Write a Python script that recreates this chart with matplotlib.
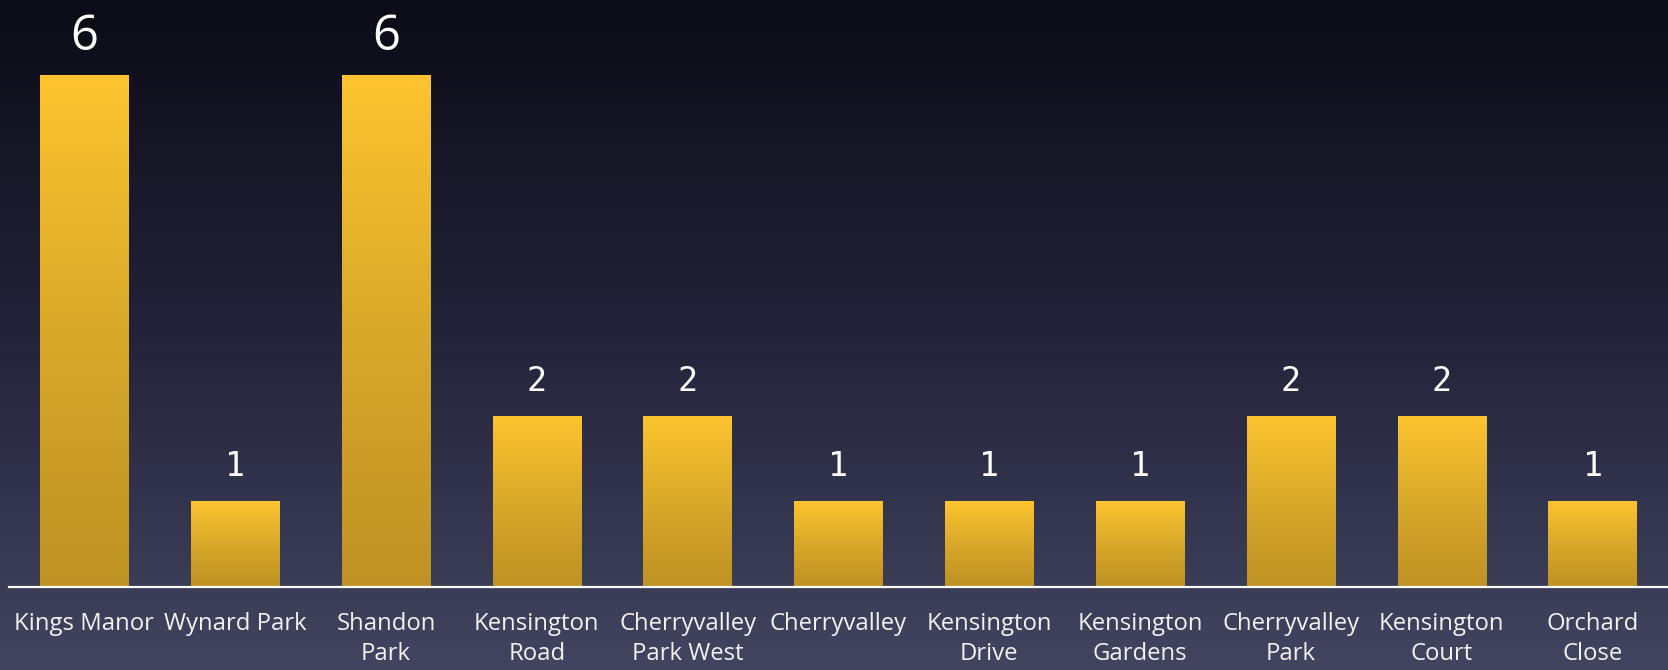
import numpy as np
import matplotlib
matplotlib.use('Agg')
import matplotlib.pyplot as plt
from matplotlib.colors import LinearSegmentedColormap

# data
estates = ['Kings Manor', 'Wynard Park', 'Shandon\nPark', 'Kensington\nRoad',
           'Cherryvalley\nPark West', 'Cherryvalley', 'Kensington\nDrive',
           'Kensington\nGardens', 'Cherryvalley\nPark', 'Kensington\nCourt',
           'Orchard\nClose']
counts = [6, 1, 6, 2, 2, 1, 1, 1, 2, 2, 1]

W, H = 1668, 670
fig = plt.figure(figsize=(W / 100, H / 100), dpi=100)

# background gradient
bg = fig.add_axes([0, 0, 1, 1], zorder=0)
bg_cmap = LinearSegmentedColormap.from_list('bg', ['#0c0c16', '#23233a', '#434560'])
bg.imshow(np.linspace(0, 1, 256).reshape(-1, 1), cmap=bg_cmap, aspect='auto',
          extent=[0, 1, 0, 1], origin='upper')
bg.axis('off')

base_y = 586.5
ax = fig.add_axes([9 / W, (H - base_y) / H, (W - 9) / W, base_y / H], zorder=1)
ax.patch.set_alpha(0)

x = np.arange(len(estates))
bars = ax.bar(x, counts, width=0.587, color='none', edgecolor='none')
ax.set_xlim(-0.5, 10.5)
ax.set_ylim(0, base_y / 85.3)

# gradient fill per bar
bar_cmap = LinearSegmentedColormap.from_list('bar', ['#be9224', '#d9a92a', '#fdc42f'])
grad = np.linspace(0, 1, 128).reshape(-1, 1)
for b in bars:
    x0, w, h = b.get_x(), b.get_width(), b.get_height()
    im = ax.imshow(grad, cmap=bar_cmap, aspect='auto', origin='lower',
                   extent=[x0, x0 + w, 0, h], zorder=2)
    im.set_clip_path(b)

for b, v in zip(bars, counts):
    if v == max(counts):
        fam, fs = 'Open Sans', 35
    else:
        fam, fs = 'DejaVu Sans Mono', 24
    ax.annotate(str(v), (b.get_x() + b.get_width() / 2, v), xytext=(0, 18),
                textcoords='offset points', ha='center', va='baseline',
                color='white', fontsize=fs, family=fam)

ax.set_xticks(x)
ax.set_xticklabels(estates, color='#f2f2f2', fontsize=17.2, family='Open Sans',
                   linespacing=1.33)
ax.tick_params(axis='x', length=0, pad=18.5)
ax.set_yticks([])
for s in ['top', 'left', 'right']:
    ax.spines[s].set_visible(False)
ax.spines['bottom'].set_color('white')
ax.spines['bottom'].set_linewidth(1.6)
ax.spines['bottom'].set_zorder(3)

fig.savefig('out.png', dpi=100)
